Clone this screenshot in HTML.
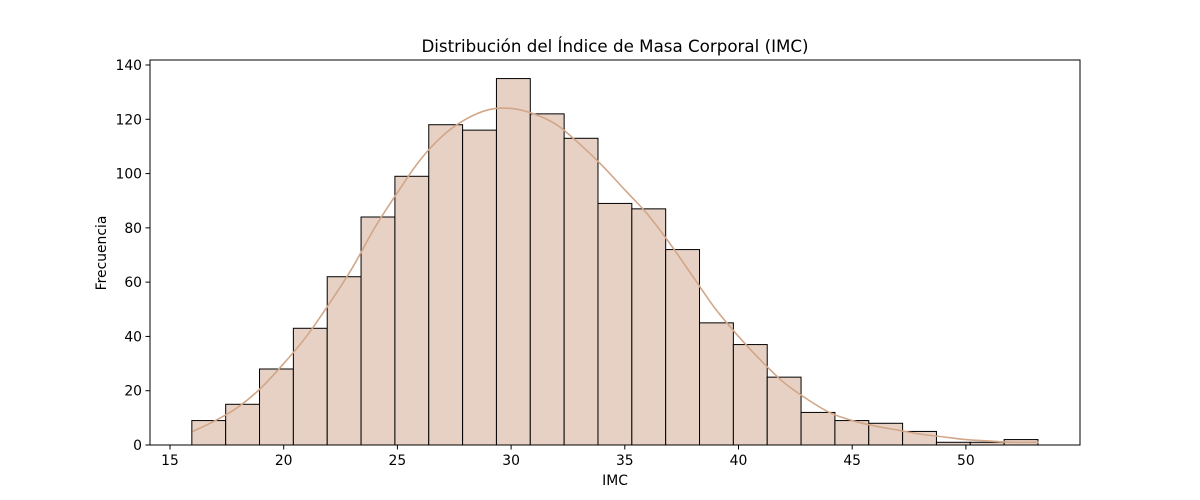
<!DOCTYPE html>
<html><head><meta charset="utf-8"><style>body{margin:0;background:#fff}svg{display:block;font-family:"DejaVu Sans","Liberation Sans",sans-serif}</style></head>
<body>
<svg id="chart" width="1200" height="500"></svg>
<script>
const binStart = 15.96;
const binWidth = 1.4884;
const counts = [9,15,28,43,62,84,99,118,116,135,122,113,89,87,72,45,37,25,12,9,8,5,1,1,2];
const kdeX = [16,17,18,19,20,21,22,23,24,25,26,27,28,29,30,31,32,33,34,35,36,37,38,39,40,41,42,43,44,45,46,47,48,49,50,51,52,53.2];
const kdeY = [5,9,14,21,30,40,52,65,80,93,105,114,120,123.5,124,122,118,111,103,94,85,74,62,50,40,31,23,17,12,9,7,5.5,4,3,2,1.5,1,1];
const xTicks = [15,20,25,30,35,40,45,50];
const yTicks = [0,20,40,60,80,100,120,140];
const L=150,R=1080,T=60,B=445;
const sx=v=>170+(v-15)*22.74;
const sy=v=>B-v*(380/140);
const svg=document.getElementById('chart');
const NS='http://www.w3.org/2000/svg';
function mk(t,a){const e=document.createElementNS(NS,t);for(const k in a)e.setAttribute(k,a[k]);svg.appendChild(e);return e;}
counts.forEach((c,i)=>{
 const x0=sx(binStart+i*binWidth),x1=sx(binStart+(i+1)*binWidth);
 const r=mk('rect',{x:x0,y:sy(c),width:x1-x0,height:B-sy(c),fill:'#e6d1c4',stroke:'#000','stroke-width':1});
 
 
});
const pts=kdeX.map((x,i)=>[sx(x),sy(kdeY[i])]);
let d='M'+pts[0][0]+','+pts[0][1];
for(let i=0;i<pts.length-1;i++){
 const p0=pts[Math.max(0,i-1)],p1=pts[i],p2=pts[i+1],p3=pts[Math.min(pts.length-1,i+2)];
 d+=' C'+(p1[0]+(p2[0]-p0[0])/6)+','+(p1[1]+(p2[1]-p0[1])/6)+' '+(p2[0]-(p3[0]-p1[0])/6)+','+(p2[1]-(p3[1]-p1[1])/6)+' '+p2[0]+','+p2[1];
}
const p=mk('path',{d:d,fill:'none',stroke:'#d2a688','stroke-width':1.6});


const ax=mk('rect',{x:L,y:T,width:R-L,height:B-T,fill:'none',stroke:'#000','stroke-width':1});


xTicks.forEach(v=>{
 mk('line',{x1:sx(v),x2:sx(v),y1:B,y2:B+4.5,stroke:'#000'});
 const t=mk('text',{x:sx(v),y:B+20,'text-anchor':'middle','font-size':13.9});t.textContent=v;
 
 
});
yTicks.forEach(v=>{
 mk('line',{x1:L-4.5,x2:L,y1:sy(v),y2:sy(v),stroke:'#000'});
 const t=mk('text',{x:L-8,y:sy(v)+5,'text-anchor':'end','font-size':13.9});t.textContent=v;
 
 
});
</script>
<svg style="position:absolute;left:0;top:0" width="1200" height="500">
<text x="615" y="52" text-anchor="middle" font-size="16.7" font-family="DejaVu Sans, Liberation Sans, sans-serif">Distribución del Índice de Masa Corporal (IMC)</text>
<text x="615" y="485" text-anchor="middle" font-size="13.9" font-family="DejaVu Sans, Liberation Sans, sans-serif">IMC</text>
<text x="0" y="0" transform="translate(106,253) rotate(-90)" text-anchor="middle" font-size="13.9" font-family="DejaVu Sans, Liberation Sans, sans-serif">Frecuencia</text>
</svg>
</body></html>
